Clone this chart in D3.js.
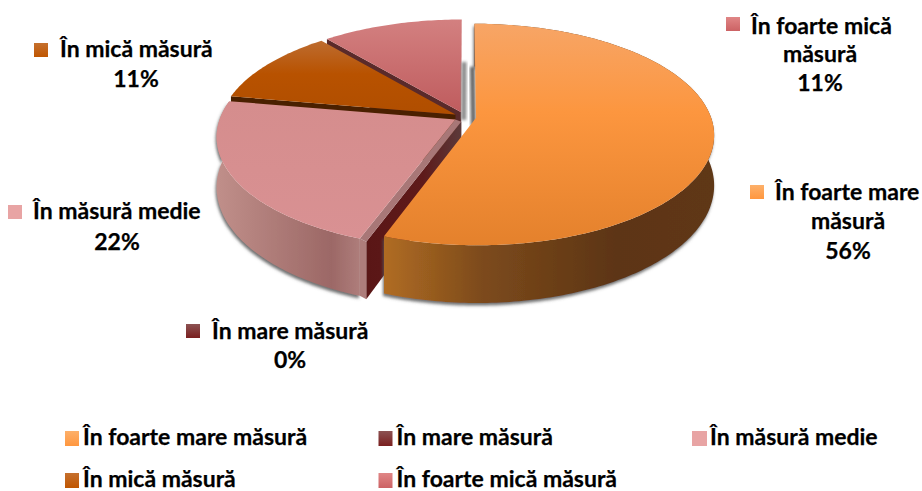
<!DOCTYPE html>
<html><head><meta charset="utf-8">
<script src="https://cdn.jsdelivr.net/npm/d3@7/dist/d3.min.js"></script>
<style>html,body{margin:0;padding:0;background:#fff}svg{display:block}text{font-family:Lato,Carlito,sans-serif;font-weight:700;fill:#000;stroke:#000;stroke-width:.25px}</style>
</head><body><svg id="c" width="922" height="491"></svg>
<script>
const categories = ["În foarte mare măsură","În mare măsură","În măsură medie","În mică măsură","În foarte mică măsură"];
const values = [5,0,2,1,1];
const percentLabels = ["56%","0%","22%","11%","11%"];
const labelLines = [["În foarte mare","măsură"],["În mare măsură"],["În măsură medie"],["În mică măsură"],["În foarte mică","măsură"]];
const swatchTop = ["#fdb06a","#8c5252","#e8a4a4","#c5702e","#e08686"];
const swatchBottom = ["#ff973f","#7a1f1f","#e8a4a4","#c05600","#cc6264"];

const W=922,H=491,cx=465,cy=117,R=235,Ry=108,k=0.15,explode=0.047,depth=49;
const svg=d3.select("#c");
const defs=svg.append("defs");
function grad(id,stops,horizontal){
  const g=defs.append("linearGradient").attr("id",id).attr("x1",0).attr("y1",0).attr("x2",horizontal?1:0).attr("y2",horizontal?0:1);
  stops.forEach(s=>g.append("stop").attr("offset",s[0]).attr("stop-color",s[1]));
}
grad("t0",[[0,"#f7a566"],[.4,"#fc963f"],[1,"#e4812c"]]);
grad("s0",[[0,"#b06c22"],[.3,"#7c4a1c"],[.7,"#5d3513"],[1,"#5f3712"]],true);
grad("t2",[[0,"#d58d8d"],[1,"#d99193"]]);
grad("s2",[[0,"#c08f8a"],[.8,"#9c6866"],[1,"#ae7d7b"]],true);
grad("t3",[[0,"#bd6c30"],[.45,"#b85200"],[1,"#b04e00"]]);
grad("t4",[[0,"#d38080"],[1,"#bf5c5e"]]);
grad("w1",[[0,"#5a1616"],[.6,"#5e1a1a"],[1,"#5c3a3a"]],true);
categories.forEach((c,i)=>grad("lg"+i,[[0,swatchTop[i]],[1,swatchBottom[i]]]));
const shadow=defs.append("filter").attr("id","sh").attr("x","-10%").attr("y","-10%").attr("width","120%").attr("height","120%");
shadow.append("feDropShadow").attr("dx",-1).attr("dy",2.5).attr("stdDeviation",1.8).attr("flood-color","#555").attr("flood-opacity",.85);
const blur=defs.append("filter").attr("id","bl");
blur.append("feGaussianBlur").attr("stdDeviation",1.6);

const arcs=d3.pie().sort(null).value(d=>d).startAngle(0).endAngle(2*Math.PI)(values);
const line=d3.line();
function proj(u,v,down){const s=1/(1-k*v);return [cx+R*u*s, cy+Ry*v*s+(down?depth*s:0)];}
function apexGround(a){const m=(a.startAngle+a.endAngle)/2;return [explode*Math.sin(m),-explode*Math.cos(m)];}
function rimPts(a,t0,t1,down){
  const o=apexGround(a),n=Math.max(2,Math.ceil((t1-t0)*60));
  return d3.range(n+1).map(i=>{const t=t0+(t1-t0)*i/n;return proj(o[0]+Math.sin(t),o[1]-Math.cos(t),down);});
}
function apex(a,down){const o=apexGround(a);return proj(o[0],o[1],down);}
function closed(p){return line(p)+"Z";}
function sideOf(a,t0,t1,fill){
  svg.append("path").attr("d",closed(rimPts(a,t0,t1,false).concat(rimPts(a,t0,t1,true).reverse()))).attr("fill",fill).attr("filter","url(#sh)");
}
function topOf(a,fill){
  svg.append("path").attr("d",closed([apex(a,false)].concat(rimPts(a,a.startAngle,a.endAngle,false)))).attr("fill",fill);
}
function wallAt(a,t,fill){
  const rt=rimPts(a,t,t,false)[0],rb=rimPts(a,t,t,true)[0];
  svg.append("path").attr("d",closed([apex(a,false),rt,rb,apex(a,true)])).attr("fill",fill);
}
const [a0,a1,a2,a3,a4]=arcs;

// back slices
wallAt(a4,a4.startAngle,"#5a2a2a");
topOf(a4,"url(#t4)");
wallAt(a3,a3.startAngle,"#4a2000");
topOf(a3,"url(#t3)");
// shadows beside the upright cut faces
function strip(a,t,w,from,fill){
  const A=apex(a,true),Rm=rimPts(a,t,t,false)[0];
  const B=[Rm[0]+(A[0]-Rm[0])*from,Rm[1]+(A[1]-Rm[1])*from];
  svg.append("path").attr("d",closed([B,[B[0]+w,B[1]],[A[0]+w,A[1]-depth+8],[A[0],A[1]-depth+8]])).attr("fill",fill).attr("filter","url(#bl)");
}
strip(a4,2*Math.PI,5,.3,"#8a8a8a");
strip(a0,0,-5,.3,"#666");
// pink
sideOf(a2,a2.startAngle,a2.endAngle,"url(#s2)");
// zero-size slice: only its cut wall shows
wallAt(a1,a1.startAngle,"url(#w1)");
const pinkRimTop=rimPts(a2,a2.startAngle,a2.startAngle,false)[0],pinkRimLow=rimPts(a2,a2.startAngle,a2.startAngle,true)[0];
const zeroRimTop=rimPts(a1,a1.startAngle,a1.startAngle,false)[0],zeroRimLow=rimPts(a1,a1.startAngle,a1.startAngle,true)[0];
svg.append("path").attr("d",closed([pinkRimTop,zeroRimTop,zeroRimLow,pinkRimLow])).attr("fill","#ae7d7b");
svg.append("path").attr("d",closed([apex(a2,false),pinkRimTop,zeroRimTop,apex(a1,false)])).attr("fill","#a87777");
topOf(a2,"url(#t2)");
// orange
sideOf(a0,a0.startAngle,a0.endAngle,"url(#s0)");
topOf(a0,"url(#t0)");

// data labels: [centre x of later lines, centre y of each line, swatch x, swatch centre y, first-line x]
const labelPos=[[848,[193,222,252],750,192,775],[290,[332,361],186,331,212],[117,[212,243],8,212,33],[136,[50,80],34,50,60],[820,[27,55,84],726,24,751]];
const fs=23;
labelPos.forEach((p,i)=>{
  const lines=labelLines[i].concat(percentLabels[i]);
  lines.forEach((l,j)=>{
    svg.append("text").attr("x",j===0?p[4]:p[0]).attr("y",p[1][j]+7).attr("text-anchor",j===0?"start":"middle").attr("font-size",fs).text(l);
  });
  svg.append("rect").attr("x",p[2]).attr("y",p[3]-7).attr("width",14).attr("height",14).attr("fill","url(#lg"+i+")");
});

// legend
const legX=d3.scalePoint().domain([0,1,2]).range([65,692]);
const legY=d3.scalePoint().domain([0,1]).range([431,473]);
categories.forEach((c,i)=>{
  const col=i%3,row=Math.floor(i/3);
  const x=legX(col),y=legY(row);
  svg.append("rect").attr("x",x).attr("y",y).attr("width",col===2?15:14).attr("height",15).attr("fill","url(#lg"+i+")");
  svg.append("text").attr("x",x+18).attr("y",y+14).attr("font-size",fs).text(c);
});
</script></body></html>
